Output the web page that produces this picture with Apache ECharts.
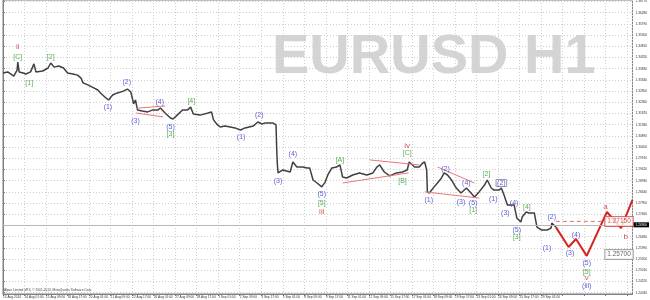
<!DOCTYPE html>
<html><head><meta charset="utf-8">
<script src="https://cdn.jsdelivr.net/npm/echarts@6/dist/echarts.min.js"></script>
<style>html,body{margin:0;padding:0;background:#fff}#c{width:650px;height:300px}</style>
</head><body><div id="c"></div>
<script>
const xTickLabels = ['13 Aug 2014','14 Aug 01:00','15 Aug 09:00','18 Aug 17:00','20 Aug 01:00','21 Aug 09:00','22 Aug 17:00','26 Aug 01:00','27 Aug 09:00','28 Aug 17:00','1 Sep 01:00','2 Sep 09:00','3 Sep 17:00','5 Sep 01:00','8 Sep 09:00','9 Sep 17:00','11 Sep 01:00','12 Sep 09:00','15 Sep 17:00','17 Sep 01:00','18 Sep 09:00','19 Sep 17:00','23 Sep 01:00','24 Sep 09:00','25 Sep 17:00','29 Sep 01:00'];
const priceTicks = [1.36770,1.36280,1.35790,1.35300,1.34810,1.34320,1.33830,1.33340,1.32850,1.32360,1.31870,1.31380,1.30890,1.30400,1.29910,1.29420,1.28930,1.28440,1.27950,1.27460,1.26970,1.26480,1.25990,1.25500,1.25010,1.24520,1.24030];

// hourly bar index (0 = 13 Aug 17:00) and EURUSD price
const priceBars = [0,7,16,21,22,24,30,34,41,46,49,59,67,71,76,83,90,96,104,111,116,119,126,135,141,145,153,157,163,170,179,185,190,193,194,197,200,207,215,222,230,234,241,249,253,259,267,274,279,283,293,305,310,313,319,323,330,338,345,353,360,372,379,385,390,401,406,407,408,409,416,427,431,437,446,452,456,461,467,474,479,483,489,496,501,505,511,520,530,541,550,556,560,567,575,585,594,601,604,612,619,624,627,630,631,634,641,646,652,656,661,667,674,681,689,696,701,708,716,720,726,730,738,741,745,750,756,760,764,770,772,778,782,790,794,801,809,815,816,822];
const priceVals = [1.3364,1.3369,1.3351,1.3377,1.3412,1.3369,1.3364,1.3360,1.3369,1.3404,1.3369,1.3373,1.3386,1.3408,1.3390,1.3395,1.3386,1.3364,1.3360,1.3355,1.3342,1.3321,1.3312,1.3299,1.3290,1.3277,1.3255,1.3246,1.3268,1.3277,1.3285,1.3294,1.3281,1.3246,1.3229,1.3246,1.3202,1.3198,1.3194,1.3202,1.3202,1.3211,1.3189,1.3167,1.3163,1.3180,1.3202,1.3202,1.3215,1.3185,1.3180,1.3189,1.3194,1.3159,1.3137,1.3128,1.3132,1.3128,1.3124,1.3115,1.3124,1.3132,1.3150,1.3141,1.3146,1.3146,1.3137,1.3027,1.2962,1.2927,1.2940,1.2931,1.2975,1.2953,1.2953,1.2949,1.2949,1.2896,1.2883,1.2866,1.2887,1.2918,1.2949,1.2953,1.2962,1.2909,1.2905,1.2918,1.2927,1.2918,1.2927,1.2953,1.2962,1.2931,1.2914,1.2927,1.2931,1.2940,1.2975,1.2953,1.2953,1.2970,1.2975,1.2940,1.2844,1.2839,1.2866,1.2883,1.2905,1.2927,1.2918,1.2896,1.2861,1.2839,1.2861,1.2839,1.2822,1.2844,1.2874,1.2896,1.2861,1.2852,1.2852,1.2861,1.2830,1.2787,1.2787,1.2787,1.2730,1.2712,1.2734,1.2756,1.2752,1.2752,1.2690,1.2677,1.2677,1.2686,1.2708,1.2690];

// forecast path
const forecastBars = [822,841,852,868,898,919,936];
const forecastVals = [1.2690,1.2603,1.2638,1.2564,1.2756,1.2686,1.2809];

// trend lines [bar1, price1, bar2, price2]
const trendLines = [
  [198,1.3210,241,1.3220],[198,1.3189,238,1.3172],
  [545,1.2984,619,1.2962],[505,1.2883,603,1.2927],
  [646,1.2953,701,1.2883],[627,1.2844,708,1.2817]
];

const waveBlue = [[156,1.3215,'(1)'],[184,1.3325,'(2)'],[197,1.3154,'(3)'],[233,1.3237,'(4)'],[249,1.3128,'(5)'],
  [354,1.3084,'(1)'],[381,1.3180,'(2)'],[409,1.2892,'(3)'],[431,1.3010,'(4)'],[474,1.2835,'(5)'],
  [633,1.2809,'(1)'],[658,1.2944,'(2)'],[681,1.2800,'(3)'],[689,1.2883,'(4)'],[699,1.2795,'(5)'],
  [729,1.2813,'(1)'],[747,1.2752,'(3)'],[760,1.2795,'(4)'],[764,1.2677,'(5)'],
  [809,1.2599,'(1)'],[816,1.2734,'(2)'],[843,1.2577,'(3)'],[852,1.2655,'(4)'],[868,1.2533,'(5)'],[868,1.2432,'(iii)']];
const waveBlueBoxed = [[741,1.2883,'(2)']];
const waveGreen = [[22,1.3434,'[C]'],[39,1.3320,'[1]'],[71,1.3434,'[2]'],[249,1.3097,'[3]'],[280,1.3242,'[4]'],
  [474,1.2795,'[5]'],[501,1.2984,'[A]'],[594,1.2892,'[B]'],[601,1.3014,'[C]'],
  [699,1.2765,'[1]'],[719,1.2922,'[2]'],[764,1.2647,'[3]'],[779,1.2778,'[4]'],[868,1.2494,'[5]']];
const waveRed = [[22,1.3478,'ii'],[474,1.2756,'iii'],[601,1.3045,'iv'],[868,1.2467,'v'],[896,1.2778,'a'],[926,1.2647,'b']];

const bidPrice = 1.2690, bidText = '1.26900';
const targetHigh = 1.2715, targetHighText = '1.27150';
const targetLow = 1.2570, targetLowText = '1.25700';
const targetBar = 916, dashFromBar = 822, dashToBar = 890;

const chart = echarts.init(document.getElementById('c'), null, {renderer:'canvas'});
const tiny = 'Liberation Sans';
const lblFont = 'Liberation Sans';
function labelSeries(arr, color, extra){
  return {type:'scatter', symbolSize:0, silent:true, z:5, clip:false,
    data: arr.map(d=>({value:[d[0],d[1]], name:d[2]})),
    label:Object.assign({show:true, position:'inside', formatter:p=>p.name, color:color, fontSize:7, fontFamily:lblFont}, extra||{})};
}
const series = [
  {type:'line', data: priceBars.map((b,i)=>[b,priceVals[i]]), symbol:'none', lineStyle:{color:'#404040', width:1.5}, z:3,
   markLine:{silent:true, symbol:'none', data:[{yAxis:bidPrice}], lineStyle:{color:'#b8b8b8', type:'solid', width:1},
     label:{show:true, position:'end', formatter:bidText, backgroundColor:'#000', color:'#fff', fontSize:3.2, fontFamily:tiny, padding:[1,2], distance:1}}},
  {type:'line', data: forecastBars.map((b,i)=>[b,forecastVals[i]]), symbol:'none', lineStyle:{color:'#d42424', width:2}, z:4, clip:false},
  {type:'line', data:[[dashFromBar,targetHigh],[dashToBar,targetHigh]], symbol:'none', lineStyle:{color:'#e07070', width:1, type:[4,3]}, z:3},
];
trendLines.forEach(t=>series.push({type:'line', data:[[t[0],t[1]],[t[2],t[3]]], symbol:'none', lineStyle:{color:'#e87878', width:1}, z:3}));
series.push(labelSeries(waveBlue,'#3535d0'));
series.push(labelSeries(waveBlueBoxed,'#3535d0',{borderColor:'#8080a0', borderWidth:1, padding:[0,1]}));
series.push(labelSeries(waveGreen,'#2f9a2f'));
series.push(labelSeries(waveRed,'#cc3030',{fontSize:8}));
series.push({type:'scatter', symbolSize:0, silent:true, z:6, clip:false,
  data:[{value:[targetBar,targetHigh], name:targetHighText, label:{color:'#c03030', borderColor:'#d04040'}},
        {value:[targetBar,targetLow], name:targetLowText, label:{color:'#404040', borderColor:'#909090'}}],
  label:{show:true, position:'inside', formatter:p=>p.name, fontSize:6.5, fontFamily:tiny, backgroundColor:'#fff', borderWidth:1, padding:[1,2]}});

chart.setOption({
  animation:false,
  backgroundColor:'#ffffff',
  grid:{left:1, right:16, top:0, bottom:6, show:true, borderColor:'#808080', borderWidth:1},
  xAxis:{type:'value', min:0, max:936, interval:32,
    axisLine:{show:true, lineStyle:{color:'#808080'}},
    axisTick:{show:true, length:2, lineStyle:{color:'#808080'}},
    axisLabel:{fontSize:3.2, fontFamily:tiny, color:'#333', align:'left', margin:2, showMaxLabel:false,
      formatter:v=>{const i=v/32; return Number.isInteger(i)&&xTickLabels[i]?xTickLabels[i]:'';}},
    splitLine:{show:true, lineStyle:{color:'#cfcfcf', type:[1,2], width:1}}},
  yAxis:{type:'value', position:'right', min:1.23973, max:1.36836, scale:true,
    axisLine:{show:true, lineStyle:{color:'#808080'}},
    axisTick:{show:true, length:2, customValues:priceTicks, lineStyle:{color:'#808080'}},
    axisLabel:{customValues:priceTicks, fontSize:3.2, fontFamily:tiny, color:'#333', margin:3, formatter:v=>v.toFixed(5)},
    splitLine:{show:true, lineStyle:{color:'#cfcfcf', type:[1,2], width:1}}},
  graphic:[
    {type:'text', left:272, top:30, z:0, silent:true, style:{text:'EURUSD H1', fill:'#d4d4d4', font:'bold 56px "Liberation Sans"'}},
    {type:'text', left:4, top:289, silent:true, style:{text:'Alpari Limited MT4, © 2001-2013, MetaQuotes Software Corp.', fill:'#444', font:'3.2px "Liberation Sans"'}}
  ],
  series:series
});
</script></body></html>
